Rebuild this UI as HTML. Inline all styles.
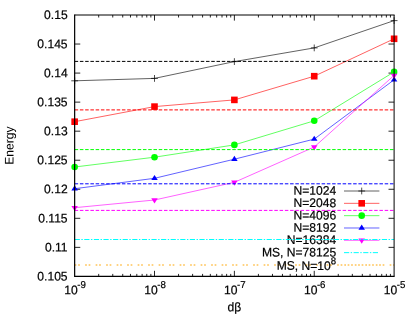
<!DOCTYPE html><html><head><meta charset="utf-8"><style>html,body{margin:0;padding:0;background:#fff;overflow:hidden}svg{display:block;will-change:transform}text{font-family:"Liberation Sans",sans-serif;fill:#000;stroke:#000;stroke-width:0.2px}</style></head><body>
<svg width="415" height="316" viewBox="0 0 415 316">
<rect width="415" height="316" fill="#fff"/>
<text transform="translate(67.6,280.50) rotate(0.03) scale(1,1.03)" font-size="12.1" text-anchor="end">0.105</text>
<text transform="translate(67.6,251.46) rotate(0.03) scale(1,1.03)" font-size="12.1" text-anchor="end">0.11</text>
<text transform="translate(67.6,222.41) rotate(0.03) scale(1,1.03)" font-size="12.1" text-anchor="end">0.115</text>
<text transform="translate(67.6,193.37) rotate(0.03) scale(1,1.03)" font-size="12.1" text-anchor="end">0.12</text>
<text transform="translate(67.6,164.32) rotate(0.03) scale(1,1.03)" font-size="12.1" text-anchor="end">0.125</text>
<text transform="translate(67.6,135.28) rotate(0.03) scale(1,1.03)" font-size="12.1" text-anchor="end">0.13</text>
<text transform="translate(67.6,106.23) rotate(0.03) scale(1,1.03)" font-size="12.1" text-anchor="end">0.135</text>
<text transform="translate(67.6,77.19) rotate(0.03) scale(1,1.03)" font-size="12.1" text-anchor="end">0.14</text>
<text transform="translate(67.6,48.14) rotate(0.03) scale(1,1.03)" font-size="12.1" text-anchor="end">0.145</text>
<text transform="translate(67.6,19.10) rotate(0.03) scale(1,1.03)" font-size="12.1" text-anchor="end">0.15</text>
<text transform="translate(64.35,294.2) rotate(0.03) scale(1,1.03)" font-size="12.1">10<tspan font-size="9.68" dy="-6.0" dx="-0.5">-9</tspan></text>
<text transform="translate(144.21,294.2) rotate(0.03) scale(1,1.03)" font-size="12.1">10<tspan font-size="9.68" dy="-6.0" dx="-0.5">-8</tspan></text>
<text transform="translate(224.08,294.2) rotate(0.03) scale(1,1.03)" font-size="12.1">10<tspan font-size="9.68" dy="-6.0" dx="-0.5">-7</tspan></text>
<text transform="translate(303.94,294.2) rotate(0.03) scale(1,1.03)" font-size="12.1">10<tspan font-size="9.68" dy="-6.0" dx="-0.5">-6</tspan></text>
<text transform="translate(383.80,294.2) rotate(0.03) scale(1,1.03)" font-size="12.1">10<tspan font-size="9.68" dy="-6.0" dx="-0.5">-5</tspan></text>
<text transform="translate(234.4,311.2) rotate(0.03) scale(1,1.03)" font-size="12.1" text-anchor="middle">dβ</text>
<text transform="translate(13.4,145.6) rotate(-89.97) scale(1,1.03)" style="stroke:none" font-size="12.1" text-anchor="middle">Energy</text>
<path d="M74.65 247.36h5.6M394.1 247.36h-5.6M74.65 218.31h5.6M394.1 218.31h-5.6M74.65 189.27h5.6M394.1 189.27h-5.6M74.65 160.22h5.6M394.1 160.22h-5.6M74.65 131.18h5.6M394.1 131.18h-5.6M74.65 102.13h5.6M394.1 102.13h-5.6M74.65 73.09h5.6M394.1 73.09h-5.6M74.65 44.04h5.6M394.1 44.04h-5.6M98.69 276.4v-2.5M98.69 15.0v2.5M112.75 276.4v-2.5M112.75 15.0v2.5M122.73 276.4v-2.5M122.73 15.0v2.5M130.47 276.4v-2.5M130.47 15.0v2.5M136.80 276.4v-2.5M136.80 15.0v2.5M142.14 276.4v-2.5M142.14 15.0v2.5M146.77 276.4v-2.5M146.77 15.0v2.5M150.86 276.4v-2.5M150.86 15.0v2.5M154.51 276.4v-5.6M154.51 15.0v5.6M178.55 276.4v-2.5M178.55 15.0v2.5M192.62 276.4v-2.5M192.62 15.0v2.5M202.59 276.4v-2.5M202.59 15.0v2.5M210.33 276.4v-2.5M210.33 15.0v2.5M216.66 276.4v-2.5M216.66 15.0v2.5M222.00 276.4v-2.5M222.00 15.0v2.5M226.64 276.4v-2.5M226.64 15.0v2.5M230.72 276.4v-2.5M230.72 15.0v2.5M234.38 276.4v-5.6M234.38 15.0v5.6M258.42 276.4v-2.5M258.42 15.0v2.5M272.48 276.4v-2.5M272.48 15.0v2.5M282.46 276.4v-2.5M282.46 15.0v2.5M290.20 276.4v-2.5M290.20 15.0v2.5M296.52 276.4v-2.5M296.52 15.0v2.5M301.87 276.4v-2.5M301.87 15.0v2.5M306.50 276.4v-2.5M306.50 15.0v2.5M310.58 276.4v-2.5M310.58 15.0v2.5M314.24 276.4v-5.6M314.24 15.0v5.6M338.28 276.4v-2.5M338.28 15.0v2.5M352.34 276.4v-2.5M352.34 15.0v2.5M362.32 276.4v-2.5M362.32 15.0v2.5M370.06 276.4v-2.5M370.06 15.0v2.5M376.38 276.4v-2.5M376.38 15.0v2.5M381.73 276.4v-2.5M381.73 15.0v2.5M386.36 276.4v-2.5M386.36 15.0v2.5M390.45 276.4v-2.5M390.45 15.0v2.5" fill="none" stroke="#000" stroke-width="0.85"/>
<polyline points="74.65,80.80 154.51,78.40 234.38,61.60 314.24,47.90 394.10,20.60" fill="none" stroke="#000000" stroke-width="0.62"/>
<path d="M71.25 80.80H78.05M74.65 77.40V84.20" stroke="#000000" stroke-width="0.7" fill="none"/>
<path d="M151.11 78.40H157.91M154.51 75.00V81.80" stroke="#000000" stroke-width="0.7" fill="none"/>
<path d="M230.98 61.60H237.78M234.38 58.20V65.00" stroke="#000000" stroke-width="0.7" fill="none"/>
<path d="M310.84 47.90H317.64M314.24 44.50V51.30" stroke="#000000" stroke-width="0.7" fill="none"/>
<path d="M390.70 20.60H397.50M394.10 17.20V24.00" stroke="#000000" stroke-width="0.7" fill="none"/>
<text transform="translate(336.2,194.80) rotate(0.03) scale(1,1.03)" font-size="12.1" text-anchor="end">N=1024</text>
<line x1="344.0" y1="191.00" x2="379.4" y2="191.00" stroke="#000000" stroke-width="0.62"/>
<path d="M358.30 191.00H365.10M361.70 187.60V194.40" stroke="#000000" stroke-width="0.7" fill="none"/>
<polyline points="74.65,121.70 154.51,106.60 234.38,99.90 314.24,76.20 394.10,38.80" fill="none" stroke="#ff0000" stroke-width="0.62"/>
<rect x="71.35" y="118.40" width="6.6" height="6.6" fill="#ff0000"/>
<rect x="151.21" y="103.30" width="6.6" height="6.6" fill="#ff0000"/>
<rect x="231.08" y="96.60" width="6.6" height="6.6" fill="#ff0000"/>
<rect x="310.94" y="72.90" width="6.6" height="6.6" fill="#ff0000"/>
<rect x="390.80" y="35.50" width="6.6" height="6.6" fill="#ff0000"/>
<text transform="translate(336.2,207.13) rotate(0.03) scale(1,1.03)" font-size="12.1" text-anchor="end">N=2048</text>
<line x1="344.0" y1="203.33" x2="379.4" y2="203.33" stroke="#ff0000" stroke-width="0.62"/>
<rect x="358.40" y="200.03" width="6.6" height="6.6" fill="#ff0000"/>
<polyline points="74.65,167.00 154.51,157.20 234.38,144.90 314.24,120.80 394.10,71.90" fill="none" stroke="#00ff00" stroke-width="0.62"/>
<circle cx="74.65" cy="167.00" r="3.3" fill="#00ff00"/>
<circle cx="154.51" cy="157.20" r="3.3" fill="#00ff00"/>
<circle cx="234.38" cy="144.90" r="3.3" fill="#00ff00"/>
<circle cx="314.24" cy="120.80" r="3.3" fill="#00ff00"/>
<circle cx="394.10" cy="71.90" r="3.3" fill="#00ff00"/>
<text transform="translate(336.2,219.46) rotate(0.03) scale(1,1.03)" font-size="12.1" text-anchor="end">N=4096</text>
<line x1="344.0" y1="215.66" x2="379.4" y2="215.66" stroke="#00ff00" stroke-width="0.62"/>
<circle cx="361.70" cy="215.66" r="3.3" fill="#00ff00"/>
<polyline points="74.65,188.70 154.51,178.30 234.38,159.20 314.24,139.10 394.10,79.80" fill="none" stroke="#0000ff" stroke-width="0.62"/>
<path d="M74.65 185.30L71.40 190.40H77.90Z" fill="#0000ff"/>
<path d="M154.51 174.90L151.26 180.00H157.76Z" fill="#0000ff"/>
<path d="M234.38 155.80L231.13 160.90H237.63Z" fill="#0000ff"/>
<path d="M314.24 135.70L310.99 140.80H317.49Z" fill="#0000ff"/>
<path d="M394.10 76.40L390.85 81.50H397.35Z" fill="#0000ff"/>
<text transform="translate(336.2,231.79) rotate(0.03) scale(1,1.03)" font-size="12.1" text-anchor="end">N=8192</text>
<line x1="344.0" y1="227.99" x2="379.4" y2="227.99" stroke="#0000ff" stroke-width="0.62"/>
<path d="M361.70 224.59L358.45 229.69H364.95Z" fill="#0000ff"/>
<polyline points="74.65,207.70 154.51,200.00 234.38,182.30 314.24,147.00 394.10,75.40" fill="none" stroke="#ff00ff" stroke-width="0.62"/>
<path d="M74.65 211.10L71.40 206.00H77.90Z" fill="#ff00ff"/>
<path d="M154.51 203.40L151.26 198.30H157.76Z" fill="#ff00ff"/>
<path d="M234.38 185.70L231.13 180.60H237.63Z" fill="#ff00ff"/>
<path d="M314.24 150.40L310.99 145.30H317.49Z" fill="#ff00ff"/>
<path d="M394.10 78.80L390.85 73.70H397.35Z" fill="#ff00ff"/>
<text transform="translate(336.2,244.12) rotate(0.03) scale(1,1.03)" font-size="12.1" text-anchor="end">N=16384</text>
<line x1="344.0" y1="240.32" x2="379.4" y2="240.32" stroke="#ff00ff" stroke-width="0.62"/>
<path d="M361.70 243.72L358.45 238.62H364.95Z" fill="#ff00ff"/>
<line x1="74.65" y1="61.40" x2="394.1" y2="61.40" stroke="#000000" stroke-width="1.0" stroke-dasharray="3.5 1.755"/>
<line x1="74.65" y1="109.90" x2="394.1" y2="109.90" stroke="#ff0000" stroke-width="1.0" stroke-dasharray="3.5 1.755"/>
<line x1="74.65" y1="149.60" x2="394.1" y2="149.60" stroke="#00ff00" stroke-width="1.0" stroke-dasharray="3.5 1.755"/>
<line x1="74.65" y1="183.80" x2="394.1" y2="183.80" stroke="#0000ff" stroke-width="1.0" stroke-dasharray="3.5 1.755"/>
<line x1="74.65" y1="210.40" x2="394.1" y2="210.40" stroke="#ff00ff" stroke-width="1.0" stroke-dasharray="3.5 1.755"/>
<line x1="74.65" y1="239.50" x2="394.1" y2="239.50" stroke="#00ffff" stroke-width="1.0" stroke-dasharray="5.2 1.5 1.4 1.5"/>
<line x1="74.65" y1="265.00" x2="394.1" y2="265.00" stroke="#ffa500" stroke-width="1.0" stroke-dasharray="1.7 1.8 1.7 5.3"/>
<text transform="translate(336.2,256.45) rotate(0.03) scale(1,1.03)" font-size="12.1" text-anchor="end">MS, N=78125</text>
<line x1="344.0" y1="252.65" x2="379.4" y2="252.65" stroke="#00ffff" stroke-width="1" stroke-dasharray="5.2 1.5 1.4 1.5"/>
<text transform="translate(336.2,269.9) rotate(0.03) scale(1,1.03)" font-size="12.1" text-anchor="end">MS, N=10<tspan font-size="9.68" dy="-5.5">8</tspan></text>
<line x1="344.3" y1="265.0" x2="381" y2="265.0" stroke="#ffa500" stroke-width="1" stroke-dasharray="1.7 8.8"/>
<path d="M74.65 14.5V277.0M74.05000000000001 276.4H394.6" fill="none" stroke="#000" stroke-width="1.2"/>
<path d="M74.65 15.0H394.6M394.1 15.0V276.4" fill="none" stroke="#000" stroke-width="1.0"/>
</svg></body></html>
